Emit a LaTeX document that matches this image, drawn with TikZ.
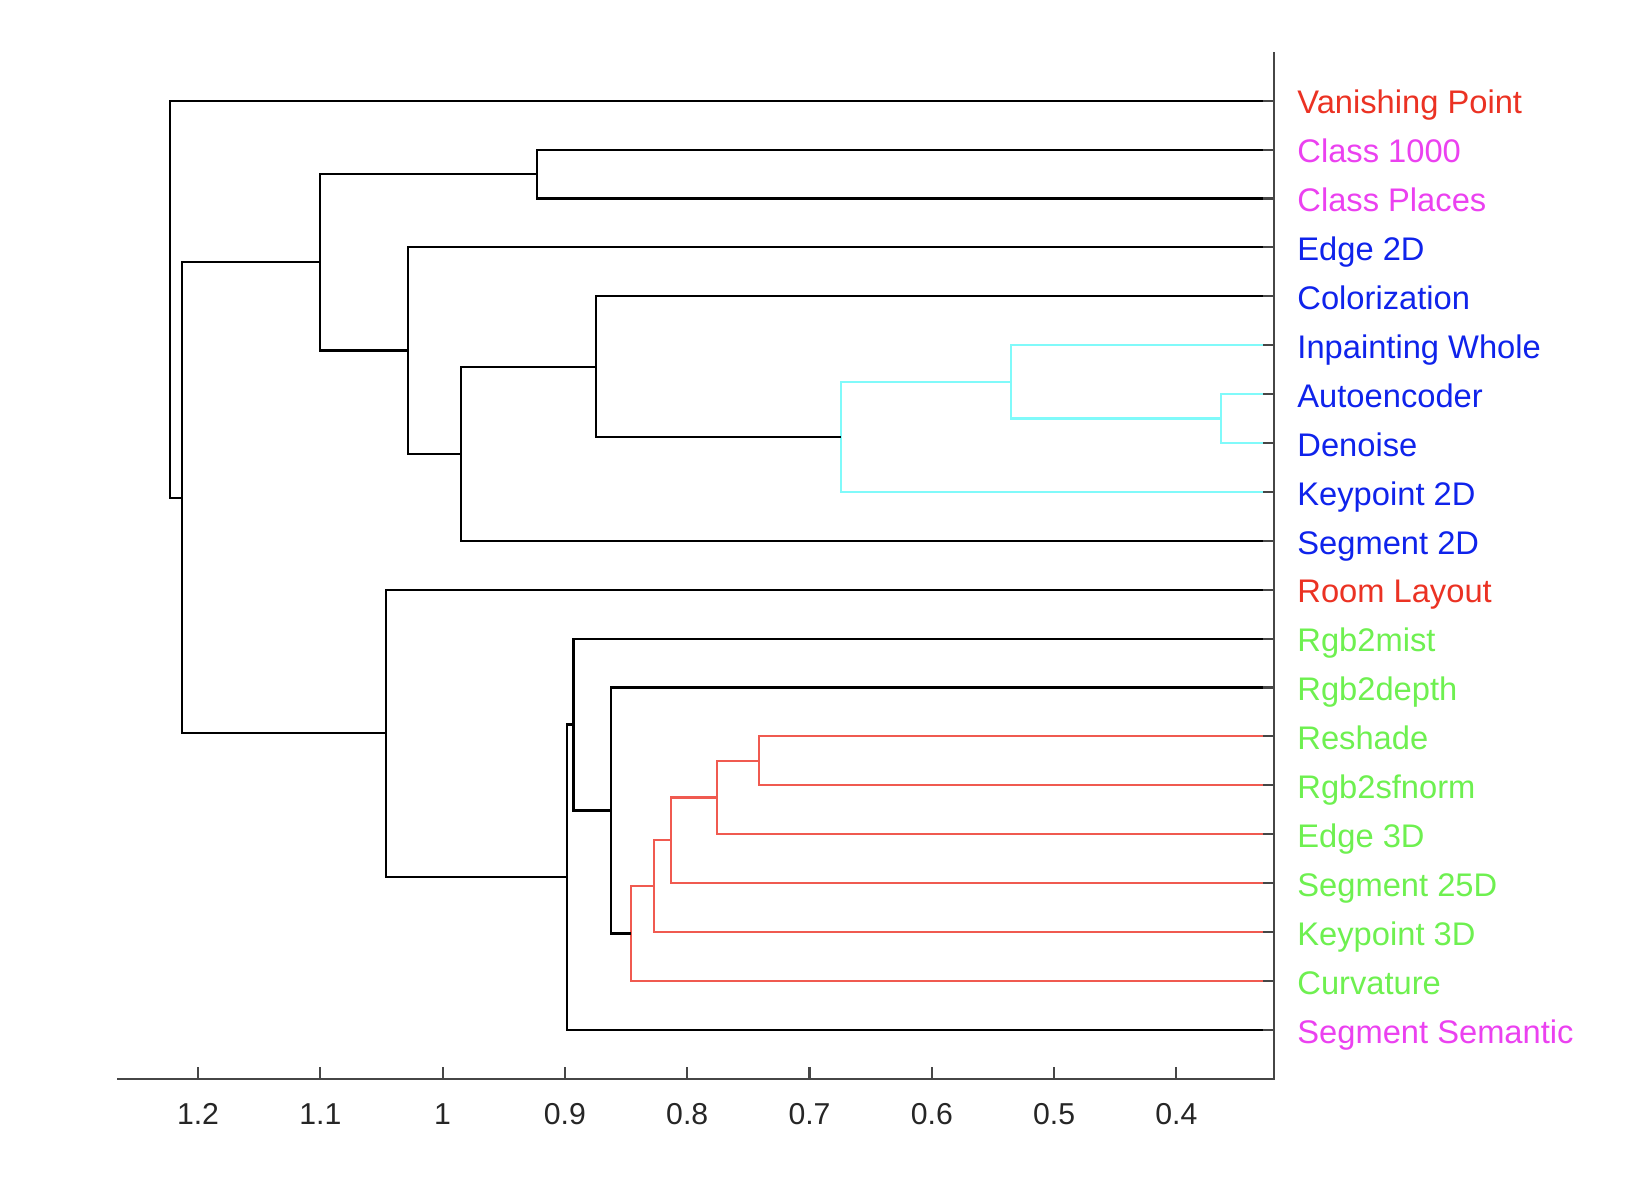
\documentclass[tikz,border=0pt]{standalone}
\usepackage{fontspec}
\setmainfont{Liberation Sans}
\usepackage{tikz}
\definecolor{labelred}{RGB}{235, 50, 35}
\definecolor{labelmag}{RGB}{235, 65, 240}
\definecolor{labelblue}{RGB}{15, 35, 235}
\definecolor{labelgreen}{RGB}{110, 240, 80}
\definecolor{linecyan}{RGB}{128, 250, 250}
\definecolor{linered}{RGB}{240, 90, 80}
\definecolor{axisgray}{RGB}{70, 70, 70}
\tikzset{
  branch/.style={line width=0.6pt},
  axisline/.style={axisgray, line width=0.6pt},
  leaflabel/.style={anchor=base west, inner sep=0, xshift=0.227cm, yshift=-0.133cm,
    font=\fontsize{9.3}{11}\selectfont},
  ticklabel/.style={anchor=base, inner sep=0, yshift=-0.457cm, text=black!85,
    font=\fontsize{8.6}{10}\selectfont}
}

\begin{document}
\begin{tikzpicture}

  \useasboundingbox (0, 0) rectangle (16.26, 11.96);

  % x = distance, y = leaf number
  \begin{scope}[x=-12.23cm, y=-0.489cm, xshift=16.656cm, yshift=11.442cm]

    \foreach \i in {1, ..., 20} {
      \coordinate (L\i) at (0.3202, \i);
    }

    % merge points
    \coordinate (mAD) at (0.3633, 7.5);
    \coordinate (mIn) at (0.5350, 6.75);
    \coordinate (mKP) at (0.6745, 7.875);
    \coordinate (mCo) at (0.8746, 6.4375);
    \coordinate (mSe) at (0.9850, 8.21875);
    \coordinate (mEd) at (1.0280, 6.109375);
    \coordinate (mCl) at (0.9230, 2.5);
    \coordinate (mUp) at (1.1000, 4.3047);
    \coordinate (mR1) at (0.7415, 14.5);
    \coordinate (mR2) at (0.7759, 15.25);
    \coordinate (mR3) at (0.8133, 16.125);
    \coordinate (mR4) at (0.8272, 17.0625);
    \coordinate (mR5) at (0.8457, 18.03125);
    \coordinate (mDe) at (0.8623, 15.5156);
    \coordinate (mMi) at (0.8930, 13.7578);
    \coordinate (mSS) at (0.8980, 16.8789);
    \coordinate (mRo) at (1.0463, 13.9395);
    \coordinate (mLo) at (1.2133, 9.1221);
    \coordinate (mRoot) at (1.2226, 5.0610);

    % cyan cluster
    \draw[branch, linecyan] (L7) -| (mAD) |- (L8);
    \draw[branch, linecyan] (L6) -| (mIn) |- (mAD);
    \draw[branch, linecyan] (mIn) -| (mKP) |- (L9);

    % red cluster
    \draw[branch, linered] (L14) -| (mR1) |- (L15);
    \draw[branch, linered] (mR1) -| (mR2) |- (L16);
    \draw[branch, linered] (mR2) -| (mR3) |- (L17);
    \draw[branch, linered] (mR3) -| (mR4) |- (L18);
    \draw[branch, linered] (mR4) -| (mR5) |- (L19);

    % black links
    \draw[branch] (L5) -| (mCo) |- (mKP);
    \draw[branch] (mCo) -| (mSe) |- (L10);
    \draw[branch] (L4) -| (mEd) |- (mSe);
    \draw[branch] (L2) -| (mCl) |- (L3);
    \draw[branch] (mCl) -| (mUp) |- (mEd);
    \draw[branch] (L13) -| (mDe) |- (mR5);
    \draw[branch] (L12) -| (mMi) |- (mDe);
    \draw[branch] (mMi) -| (mSS) |- (L20);
    \draw[branch] (L11) -| (mRo) |- (mSS);
    \draw[branch] (mUp) -| (mLo) |- (mRo);
    \draw[branch] (L1) -| (mRoot) |- (mLo);

    % axes
    \coordinate (axL) at (1.266, 21);
    \coordinate (axO) at (0.3202, 21);
    \coordinate (axT) at (0.3202, 0);
    \draw[axisline] (axL) -- (axO) -- (axT);

    \foreach \i in {1, ..., 20} {
      \draw[axisline] (L\i) -- ++(-0.11cm, 0);
    }

    \foreach \v/\t [count=\k] in {1.2/1.2, 1.1/1.1, 1/1, 0.9/0.9, 0.8/0.8, 0.7/0.7, 0.6/0.6, 0.5/0.5, 0.4/0.4} {
      \draw[axisline] (\v, 21) -- ++(0, 0.12cm);
      \node[ticklabel] (tick\k) at (\v, 21) {\t};
    }

    % leaf labels
    \foreach \i/\name/\col in {1/Vanishing Point/labelred, 2/Class 1000/labelmag,
        3/Class Places/labelmag, 4/Edge 2D/labelblue, 5/Colorization/labelblue,
        6/Inpainting Whole/labelblue, 7/Autoencoder/labelblue, 8/Denoise/labelblue,
        9/Keypoint 2D/labelblue, 10/Segment 2D/labelblue, 11/Room Layout/labelred,
        12/Rgb2mist/labelgreen, 13/Rgb2depth/labelgreen, 14/Reshade/labelgreen,
        15/Rgb2sfnorm/labelgreen, 16/Edge 3D/labelgreen, 17/Segment 25D/labelgreen,
        18/Keypoint 3D/labelgreen, 19/Curvature/labelgreen, 20/Segment Semantic/labelmag} {
      \node[leaflabel, text=\col] (lab\i) at (L\i) {\name};
    }

  \end{scope}

\end{tikzpicture}
\end{document}
